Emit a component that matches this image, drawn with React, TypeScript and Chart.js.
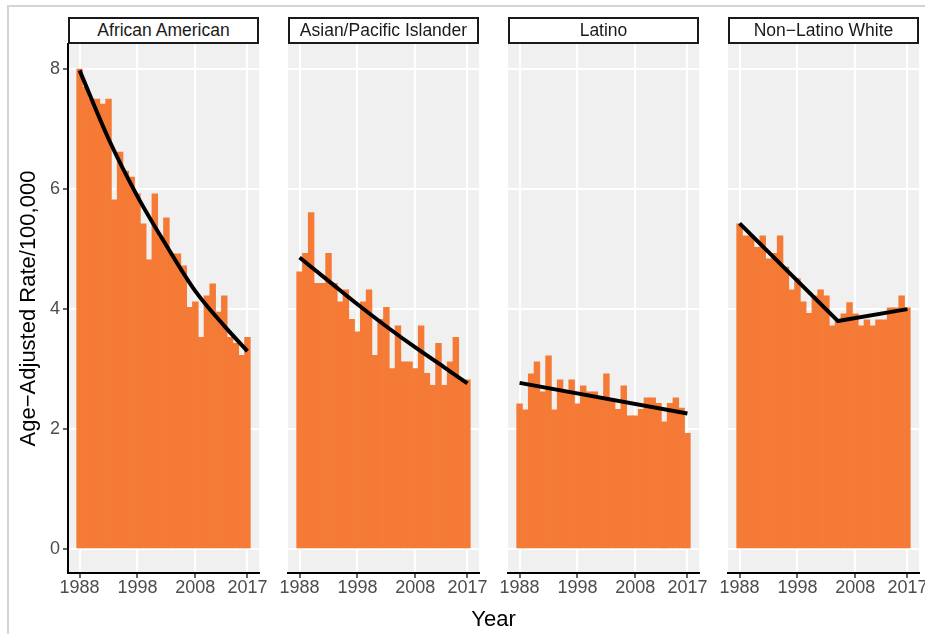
import React, { useEffect, useRef } from 'react';
import { Chart, registerables } from 'chart.js';

Chart.register(...registerables);

// ---------- data ----------
const YEARS = [
  1988, 1989, 1990, 1991, 1992, 1993, 1994, 1995, 1996, 1997,
  1998, 1999, 2000, 2001, 2002, 2003, 2004, 2005, 2006, 2007,
  2008, 2009, 2010, 2011, 2012, 2013, 2014, 2015, 2016, 2017,
];

const AFRICAN_AMERICAN = [
  8.0, 7.7, 7.5, 7.5, 7.42, 7.5, 5.82, 6.62, 6.3, 6.2,
  5.92, 5.42, 4.82, 5.92, 5.2, 5.52, 4.92, 4.92, 4.72, 4.03,
  4.12, 3.53, 4.22, 4.42, 3.95, 4.22, 3.53, 3.43, 3.23, 3.53,
];

const ASIAN_PACIFIC_ISLANDER = [
  4.62, 4.93, 5.61, 4.43, 4.43, 4.93, 4.43, 4.12, 4.32, 3.83,
  3.62, 4.12, 4.32, 3.23, 3.83, 4.03, 3.01, 3.72, 3.12, 3.12,
  3.01, 3.72, 2.93, 2.73, 3.43, 2.73, 3.12, 3.53, 2.8, 2.82,
];

const LATINO = [
  2.42, 2.32, 2.92, 3.12, 2.62, 3.22, 2.32, 2.82, 2.62, 2.82,
  2.42, 2.72, 2.62, 2.62, 2.52, 2.92, 2.5, 2.33, 2.72, 2.22,
  2.22, 2.33, 2.52, 2.52, 2.43, 2.12, 2.43, 2.52, 2.35, 1.93,
];

const NON_LATINO_WHITE = [
  5.42, 5.22, 5.22, 5.03, 5.22, 4.84, 4.93, 5.22, 4.7, 4.32,
  4.51, 4.12, 3.93, 4.22, 4.32, 4.22, 3.72, 3.8, 3.92, 4.11,
  3.92, 3.72, 3.82, 3.72, 3.82, 3.82, 4.02, 4.02, 4.22, 4.02,
];

// fitted trend lines (read at a few years)
const AA_TREND_YEARS = [1988, 1993, 1998, 2003, 2008, 2013, 2017];
const AA_TREND = [7.98, 6.84, 5.88, 5.06, 4.3, 3.72, 3.3];

const API_TREND_YEARS = [1988, 1993, 1998, 2003, 2008, 2013, 2017];
const API_TREND = [4.86, 4.47, 4.08, 3.71, 3.36, 3.03, 2.76];

const LAT_TREND_YEARS = [1988, 2017];
const LAT_TREND = [2.77, 2.26];

const NLW_TREND_YEARS = [1988, 2005, 2017];
const NLW_TREND = [5.43, 3.8, 4.0];

const FACET_LABELS = ['African American', 'Asian/Pacific Islander', 'Latino', 'Non\u2212Latino White'];
const X_TICKS = [1988, 1998, 2008, 2017];
const Y_TICKS = [0, 2, 4, 6, 8];
const Y_TITLE = 'Age\u2212Adjusted Rate/100,000';
const X_TITLE = 'Year';

// ---------- styling / layout ----------
const FONT = '"Liberation Sans", Arial, Helvetica, sans-serif';
const BAR_COLOR = '#F47A36';
const PANEL_BG = '#F0F0F0';
const PLOT_LEFT0 = 68;
const PANEL_STEP = 220;
const PLOT_W = 191;
const PLOT_TOP = 44;
const PLOT_BOTTOM = 573;
const CANVAS_TOP = 20;
const CANVAS_H = 634 - CANVAS_TOP;
const PAD_R = 12;

const panelBg = {
  id: 'panelBg',
  beforeDraw(chart: any) {
    const { ctx, chartArea: a } = chart;
    ctx.save();
    ctx.fillStyle = PANEL_BG;
    ctx.fillRect(a.left, a.top, a.right - a.left, a.bottom - a.top);
    ctx.restore();
  },
};

type PanelProps = {
  index: number;
  values: number[];
  trendYears: number[];
  trendValues: number[];
  curved: boolean;
};

function Panel({ index, values, trendYears, trendValues, curved }: PanelProps) {
  const ref = useRef<HTMLCanvasElement | null>(null);
  const first = index === 0;
  const plotLeft = PLOT_LEFT0 + index * PANEL_STEP;
  const padL = first ? 16 : 20;
  const yWidth = first ? plotLeft - padL : 0;
  const canvasLeft = first ? 0 : plotLeft - padL;
  const canvasWidth = (first ? plotLeft : padL) + PLOT_W + PAD_R;
  const padTop = PLOT_TOP - CANVAS_TOP;
  const xHeight = CANVAS_TOP + CANVAS_H - PLOT_BOTTOM;

  useEffect(() => {
    if (!ref.current) return;
    Chart.defaults.font.family = FONT;
    const chart = new Chart(ref.current, {
      type: 'bar',
      data: {
        datasets: [
          {
            type: 'line',
            data: trendYears.map((x, i) => ({ x, y: trendValues[i] })),
            borderColor: '#000000',
            borderWidth: 4,
            pointRadius: 0,
            cubicInterpolationMode: curved ? 'monotone' : 'default',
            tension: 0,
            borderCapStyle: 'butt',
            borderJoinStyle: 'round',
            fill: false,
            order: 0,
          } as any,
          {
            type: 'bar',
            data: YEARS.map((x, i) => ({ x, y: values[i] })),
            backgroundColor: BAR_COLOR,
            borderWidth: 0,
            barPercentage: 1,
            categoryPercentage: 1,
            order: 1,
          } as any,
        ],
      },
      options: {
        animation: false,
        responsive: false,
        events: [],
        layout: { padding: { left: padL, right: PAD_R, top: padTop, bottom: 0 } },
        plugins: {
          legend: { display: false },
          tooltip: { enabled: false },
          title: { display: false },
        },
        scales: {
          x: {
            type: 'linear',
            min: 1986,
            max: 2019,
            offset: false,
            afterBuildTicks: (s: any) => {
              s.ticks = X_TICKS.map((v) => ({ value: v }));
            },
            afterFit: (s: any) => {
              s.height = xHeight;
            },
            grid: {
              color: '#FFFFFF',
              lineWidth: 2,
              offset: false,
              drawTicks: true,
              tickLength: 5,
              tickColor: '#333333',
              tickWidth: 1.5,
            },
            border: { display: true, color: '#000000', width: 2 },
            ticks: {
              color: '#4D4D4D',
              font: { size: 18, lineHeight: 1.1 },
              padding: 0,
              maxRotation: 0,
              autoSkip: false,
              callback: (v: any) => String(v),
            },
          },
          y: {
            type: 'linear',
            min: -0.4,
            max: 8.42,
            afterBuildTicks: (s: any) => {
              s.ticks = Y_TICKS.map((v) => ({ value: v }));
            },
            afterFit: (s: any) => {
              s.width = yWidth;
            },
            grid: {
              color: '#FFFFFF',
              lineWidth: 2,
              drawTicks: first,
              tickLength: 5,
              tickColor: '#333333',
              tickWidth: 1.5,
            },
            border: { display: first, color: '#000000', width: 2 },
            ticks: {
              display: first,
              color: '#4D4D4D',
              font: { size: 18 },
              padding: 3,
              callback: (v: any) => String(v),
            },
            title: {
              display: first,
              text: Y_TITLE,
              color: '#000000',
              font: { size: 22, lineHeight: 1.2 },
              padding: 0,
            },
          },
        },
      } as any,
      plugins: [panelBg],
    });
    return () => chart.destroy();
  }, []);

  return (
    <canvas
      ref={ref}
      width={canvasWidth}
      height={CANVAS_H}
      style={{
        position: 'absolute',
        left: canvasLeft,
        top: CANVAS_TOP,
        width: canvasWidth,
        height: CANVAS_H,
      }}
    />
  );
}

const PANELS = [
  { values: AFRICAN_AMERICAN, trendYears: AA_TREND_YEARS, trendValues: AA_TREND, curved: true },
  { values: ASIAN_PACIFIC_ISLANDER, trendYears: API_TREND_YEARS, trendValues: API_TREND, curved: true },
  { values: LATINO, trendYears: LAT_TREND_YEARS, trendValues: LAT_TREND, curved: false },
  { values: NON_LATINO_WHITE, trendYears: NLW_TREND_YEARS, trendValues: NLW_TREND, curved: false },
];

export default function App() {
  const plotsLeft = PLOT_LEFT0;
  const plotsRight = PLOT_LEFT0 + 3 * PANEL_STEP + PLOT_W;
  return (
    <div
      style={{
        position: 'absolute',
        left: 0,
        top: 0,
        width: 925,
        height: 634,
        background: '#FFFFFF',
        overflow: 'hidden',
        fontFamily: FONT,
      }}
    >
      <div
        style={{
          position: 'absolute',
          left: 7,
          top: 5,
          width: 925,
          height: 640,
          borderLeft: '2px solid #D4D4D4',
          borderTop: '2px solid #D4D4D4',
        }}
      />
      {PANELS.map((p, i) => (
        <Panel
          key={i}
          index={i}
          values={p.values}
          trendYears={p.trendYears}
          trendValues={p.trendValues}
          curved={p.curved}
        />
      ))}
      {FACET_LABELS.map((label, i) => (
        <div
          key={label}
          style={{
            position: 'absolute',
            left: PLOT_LEFT0 + i * PANEL_STEP,
            top: 17,
            width: PLOT_W,
            height: PLOT_TOP - 17,
            boxSizing: 'border-box',
            border: '2px solid #1A1A1A',
            background: '#FFFFFF',
            color: '#1A1A1A',
            fontSize: 17.5,
            display: 'flex',
            alignItems: 'center',
            justifyContent: 'center',
            whiteSpace: 'nowrap',
          }}
        >
          {label}
        </div>
      ))}
      <div
        style={{
          position: 'absolute',
          left: plotsLeft,
          width: plotsRight - plotsLeft,
          top: 606,
          height: 26,
          lineHeight: '26px',
          fontSize: 22,
          color: '#000000',
          textAlign: 'center',
        }}
      >
        {X_TITLE}
      </div>
    </div>
  );
}
